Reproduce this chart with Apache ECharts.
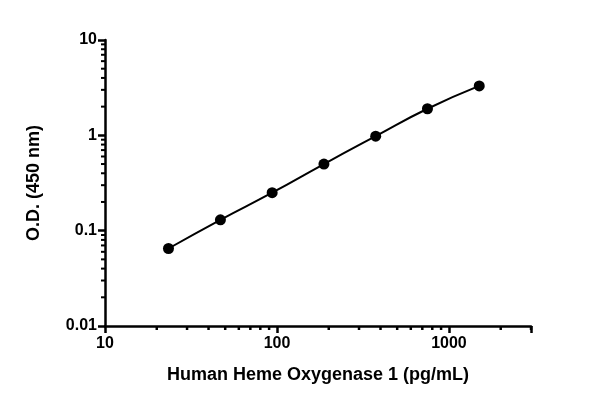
<!DOCTYPE html><html><head><meta charset="utf-8"><script src="https://cdn.jsdelivr.net/npm/echarts@6/dist/echarts.min.js"></script></head><body style="margin:0"><div id="c" style="width:600px;height:415px"></div><script>
const concentrations=[23.4,46.9,93.75,187.5,375,750,1500];
const od=[0.065,0.13,0.25,0.5,0.98,1.9,3.3];
const xMinor=[20,30,40,50,60,70,80,90,200,300,400,500,600,700,800,900,2000,3000];
const yMinor=[];
[0.01,0.1,1].forEach(d=>{for(let k=2;k<=9;k++)yMinor.push(+(d*k).toFixed(3));});
const ch=echarts.init(document.getElementById('c'));
const F='Liberation Sans';
ch.setOption({animation:false,
grid:{left:105,right:69,top:40,bottom:89},
xAxis:{type:'log',min:10,max:3000,logBase:10,name:'Human Heme Oxygenase 1 (pg/mL)',nameLocation:'middle',nameGap:40,
nameTextStyle:{fontFamily:F,fontWeight:'bold',fontSize:18,color:'#000'},
axisLine:{lineStyle:{color:'#000',width:2.5}},axisTick:{length:7,lineStyle:{width:2.5,color:'#000'}},
axisLabel:{fontFamily:F,fontWeight:'bold',fontSize:16,color:'#000',margin:10,formatter:v=>(v==10||v==100||v==1000)?String(v):''},splitLine:{show:false}},
yAxis:{type:'log',min:0.01,max:10,logBase:10,name:'O.D. (450 nm)',nameLocation:'middle',nameGap:62,
nameTextStyle:{fontFamily:F,fontWeight:'bold',fontSize:18,color:'#000'},
axisLine:{lineStyle:{color:'#000',width:2.5}},axisTick:{length:7,lineStyle:{width:2.5,color:'#000'}},
axisLabel:{fontFamily:F,fontWeight:'bold',fontSize:16,color:'#000',margin:8,formatter:v=>String(+v.toPrecision(2))},splitLine:{show:false}},
series:[{type:'line',smooth:true,data:concentrations.map((x,i)=>[x,od[i]]),symbol:'circle',symbolSize:11,
itemStyle:{color:'#000'},lineStyle:{color:'#000',width:2}}]});
const g=[];
xMinor.forEach(v=>{const p=ch.convertToPixel({gridIndex:0},[v,0.01]);g.push({type:'line',shape:{x1:p[0],y1:p[1],x2:p[0],y2:p[1]+4},style:{stroke:'#000',lineWidth:2.5}});});
yMinor.forEach(v=>{const p=ch.convertToPixel({gridIndex:0},[10,v]);g.push({type:'line',shape:{x1:p[0]-4,y1:p[1],x2:p[0],y2:p[1]},style:{stroke:'#000',lineWidth:2}});});
ch.setOption({graphic:g});
</script></body></html>
